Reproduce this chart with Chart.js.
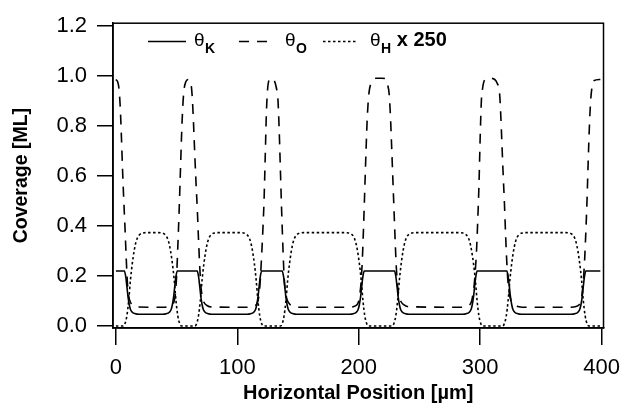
<!DOCTYPE html>
<html>
<head>
<meta charset="utf-8">
<script src="https://cdn.jsdelivr.net/npm/chart.js@4.4.1/dist/chart.umd.min.js"></script>
<style>
  html, body { margin: 0; padding: 0; background: #fff; }
</style>
</head>
<body>
<canvas id="coverageChart" width="630" height="407"></canvas>
<script>
// position [um] / coverage [ML]
const posK = [0, 7, 8, 9, 10, 11, 12, 13.5, 16, 19,
    38.5, 41.5, 44, 45.5, 46.5, 47.5, 48.5, 49.5, 50.5,
    67, 68, 69, 70, 71, 72, 73.5, 76, 79,
    108, 111, 113.5, 115, 116, 117, 118, 119, 120,
    137, 138, 139, 140, 141, 142, 143.5, 146, 149,
    192.5, 195.5, 198, 199.5, 200.5, 201.5, 202.5, 203.5, 204.5,
    229.5, 230.5, 231.5, 232.5, 233.5, 234.5, 236, 238.5, 241.5,
    285.5, 288.5, 291, 292.5, 293.5, 294.5, 295.5, 296.5, 297.5,
    322, 323, 324, 325, 326, 327, 328.5, 331, 334,
    375, 378, 380.5, 382, 383, 384, 385, 386, 387,
    399];
const thetaK = [0.22, 0.22, 0.2, 0.16, 0.115, 0.085, 0.066, 0.055, 0.049, 0.047,
    0.047, 0.049, 0.055, 0.066, 0.085, 0.115, 0.16, 0.2, 0.22,
    0.22, 0.2, 0.16, 0.115, 0.085, 0.066, 0.055, 0.049, 0.047,
    0.047, 0.049, 0.055, 0.066, 0.085, 0.115, 0.16, 0.2, 0.22,
    0.22, 0.2, 0.16, 0.115, 0.085, 0.066, 0.055, 0.049, 0.047,
    0.047, 0.049, 0.055, 0.066, 0.085, 0.115, 0.16, 0.2, 0.22,
    0.22, 0.2, 0.16, 0.115, 0.085, 0.066, 0.055, 0.049, 0.047,
    0.047, 0.049, 0.055, 0.066, 0.085, 0.115, 0.16, 0.2, 0.22,
    0.22, 0.2, 0.16, 0.115, 0.085, 0.066, 0.055, 0.049, 0.047,
    0.047, 0.049, 0.055, 0.066, 0.085, 0.115, 0.16, 0.2, 0.22,
    0.22];

const posO = [0, 1.5, 2.5, 3.5, 4.5, 5.5, 6.5, 7.5, 8.5, 9.5, 10.5, 12, 14, 18,
    40, 44, 46.5, 48, 49, 50, 51, 52, 53, 54, 55, 56, 57.5, 59.5, 61.5, 62.8, 64, 65, 66, 67, 68, 69, 70, 71, 72.5, 75, 79,
    109, 113, 115.5, 117, 118, 119, 120, 121, 122, 123, 124, 125, 126.5, 128.5, 130.5, 132, 133.5, 134.5, 135.5, 136.5, 137.5, 138.5, 139.5, 141, 143, 146, 150,
    192, 196, 198.5, 200, 201, 202, 203, 204, 205, 206, 207, 208, 209, 211, 214, 219, 223, 224, 225, 226, 227, 228, 229, 230, 231, 232, 233, 234.5, 237, 241,
    285, 289, 291.5, 293, 294, 295, 296, 297, 298, 299, 300, 301, 302, 304, 308, 312, 314, 316, 317, 318, 319, 320, 321, 322, 323, 324, 325.5, 328, 331, 335,
    375, 379, 381.5, 383, 384, 385, 386, 387, 388, 389, 390, 391, 392, 393.5, 399];
const thetaO = [0.985, 0.975, 0.95, 0.88, 0.76, 0.62, 0.5, 0.39, 0.27, 0.17, 0.12, 0.095, 0.082, 0.076,
    0.075, 0.078, 0.085, 0.1, 0.13, 0.2, 0.32, 0.45, 0.6, 0.75, 0.87, 0.94, 0.975, 0.985, 0.975, 0.92, 0.8, 0.68, 0.57, 0.47, 0.35, 0.24, 0.16, 0.12, 0.095, 0.082, 0.076,
    0.075, 0.078, 0.085, 0.1, 0.13, 0.19, 0.28, 0.38, 0.5, 0.68, 0.86, 0.95, 0.985, 0.99, 0.98, 0.955, 0.9, 0.78, 0.62, 0.46, 0.32, 0.2, 0.14, 0.105, 0.088, 0.079, 0.075,
    0.075, 0.078, 0.085, 0.1, 0.13, 0.18, 0.27, 0.4, 0.55, 0.7, 0.83, 0.91, 0.95, 0.975, 0.99, 0.99, 0.985, 0.96, 0.93, 0.85, 0.73, 0.6, 0.47, 0.34, 0.23, 0.16, 0.125, 0.1, 0.085, 0.077,
    0.075, 0.078, 0.085, 0.1, 0.125, 0.16, 0.22, 0.3, 0.42, 0.56, 0.75, 0.9, 0.95, 0.985, 0.99, 0.985, 0.97, 0.93, 0.84, 0.72, 0.6, 0.49, 0.36, 0.25, 0.17, 0.13, 0.1, 0.085, 0.078, 0.075,
    0.075, 0.078, 0.085, 0.1, 0.13, 0.18, 0.26, 0.37, 0.5, 0.66, 0.8, 0.9, 0.95, 0.98, 0.985];

const posH = [0, 6, 7.5, 9, 10.5, 12, 13.5, 15, 16.5, 18, 20, 22.5, 25,
    35, 37.5, 40, 42, 43.5, 45, 46.5, 48, 49.5, 51, 52.5, 54,
    65, 66.5, 68, 69.5, 71, 72.5, 74, 75.5, 77, 79, 81.5, 84,
    102.5, 105, 107.5, 109.5, 111, 112.5, 114, 115.5, 117, 118.5, 120, 121.5,
    135.5, 137, 138.5, 140, 141.5, 143, 144.5, 146, 147.5, 149.5, 152, 154.5,
    189, 191.5, 194, 196, 197.5, 199, 200.5, 202, 203.5, 205, 206.5, 208,
    227.5, 229, 230.5, 232, 233.5, 235, 236.5, 238, 239.5, 241.5, 244, 246.5,
    283, 285.5, 288, 290, 291.5, 293, 294.5, 296, 297.5, 299, 300.5, 302,
    318.5, 320, 321.5, 323, 324.5, 326, 327.5, 329, 330.5, 332.5, 335, 337.5,
    370.5, 373, 375.5, 377.5, 379, 380.5, 382, 383.5, 385, 386.5, 388, 389.5,
    399];
const thetaH250 = [0, 0, 0.01, 0.04, 0.1, 0.185, 0.25, 0.3, 0.335, 0.355, 0.367, 0.372, 0.373,
    0.373, 0.372, 0.367, 0.355, 0.335, 0.3, 0.25, 0.185, 0.1, 0.04, 0.01, 0,
    0, 0.01, 0.04, 0.1, 0.185, 0.25, 0.3, 0.335, 0.355, 0.367, 0.372, 0.373,
    0.373, 0.372, 0.367, 0.355, 0.335, 0.3, 0.25, 0.185, 0.1, 0.04, 0.01, 0,
    0, 0.01, 0.04, 0.1, 0.185, 0.25, 0.3, 0.335, 0.355, 0.367, 0.372, 0.373,
    0.373, 0.372, 0.367, 0.355, 0.335, 0.3, 0.25, 0.185, 0.1, 0.04, 0.01, 0,
    0, 0.01, 0.04, 0.1, 0.185, 0.25, 0.3, 0.335, 0.355, 0.367, 0.372, 0.373,
    0.373, 0.372, 0.367, 0.355, 0.335, 0.3, 0.25, 0.185, 0.1, 0.04, 0.01, 0,
    0, 0.01, 0.04, 0.1, 0.185, 0.25, 0.3, 0.335, 0.355, 0.367, 0.372, 0.373,
    0.373, 0.372, 0.367, 0.355, 0.335, 0.3, 0.25, 0.185, 0.1, 0.04, 0.01, 0,
    0];

const xTicks = [0, 100, 200, 300, 400];
const yTicks = [0, 0.2, 0.4, 0.6, 0.8, 1.0, 1.2];
// legend text: symbol, subscript, trailing text
const legendSymbols = ['θ', 'θ', 'θ'];
const legendSubs = ['K', 'O', 'H'];
const legendTails = ['', '', ' x 250'];

const fontFamily = "'Liberation Sans', Arial, Helvetica, sans-serif";
Chart.defaults.font.family = fontFamily;
Chart.defaults.color = '#000';

const toPoints = (xs, ys) => xs.map((x, i) => ({ x: x, y: ys[i] }));

// box around the plot area
const framePlugin = {
    id: 'frame',
    afterDatasetsDraw(chart) {
        const { ctx, chartArea: a } = chart;
        ctx.save();
        ctx.strokeStyle = '#000';
        ctx.lineWidth = 1.5;
        ctx.strokeRect(a.left, a.top, a.right - a.left, a.bottom - a.top);
        ctx.restore();
    }
};

// legend with subscripts, drawn inside the plot
const subLegendPlugin = {
    id: 'subLegend',
    afterDraw(chart) {
        const ctx = chart.ctx;
        const lineStart = [148, 239, 323];
        const lineEnd = [186, 269, 357];
        const textX = [194, 285, 370];
        const lineY = 41.5;
        ctx.save();
        chart.data.datasets.forEach((ds, i) => {
            ctx.strokeStyle = '#000';
            ctx.lineWidth = ds.borderWidth;
            ctx.setLineDash(ds.borderDash || []);
            ctx.beginPath();
            ctx.moveTo(lineStart[i], lineY);
            ctx.lineTo(lineEnd[i], lineY);
            ctx.stroke();
            ctx.setLineDash([]);

            ctx.fillStyle = '#000';
            ctx.textBaseline = 'alphabetic';
            ctx.textAlign = 'left';
            ctx.font = '19px ' + fontFamily;
            ctx.fillText(legendSymbols[i], textX[i], 45.5);
            let x = textX[i] + ctx.measureText(legendSymbols[i]).width + 0.5;
            ctx.font = 'bold 14px ' + fontFamily;
            ctx.fillText(legendSubs[i], x, 53);
            x += ctx.measureText(legendSubs[i]).width;
            if (legendTails[i]) {
                ctx.font = 'bold 20px ' + fontFamily;
                ctx.fillText(legendTails[i], x, 45.5);
            }
        });
        ctx.restore();
    }
};

new Chart(document.getElementById('coverageChart'), {
    type: 'line',
    data: {
        datasets: [
            {
                label: 'θK',
                data: toPoints(posK, thetaK),
                borderColor: '#000',
                borderWidth: 1.6,
                pointRadius: 0,
                cubicInterpolationMode: 'monotone',
            },
            {
                label: 'θO',
                data: toPoints(posO, thetaO),
                borderColor: '#000',
                borderWidth: 1.6,
                borderDash: [10, 8],
                pointRadius: 0,
                cubicInterpolationMode: 'monotone',
            },
            {
                label: 'θH x 250',
                data: toPoints(posH, thetaH250),
                borderColor: '#000',
                borderWidth: 1.6,
                borderDash: [2.5, 2.5],
                pointRadius: 0,
                cubicInterpolationMode: 'monotone',
            }
        ]
    },
    options: {
        responsive: false,
        animation: false,
        devicePixelRatio: 1,
        layout: { padding: { top: 16, right: 20, bottom: 0, left: 0 } },
        plugins: {
            legend: { display: false },
            tooltip: { enabled: false }
        },
        scales: {
            x: {
                type: 'linear',
                min: -2.4,
                max: 401.6,
                afterBuildTicks: (scale) => { scale.ticks = xTicks.map(v => ({ value: v })); },
                afterFit: (scale) => { scale.height = 79; },
                ticks: {
                    font: { size: 22 },
                    color: '#000',
                    padding: 10,
                    maxRotation: 0
                },
                grid: {
                    drawOnChartArea: false,
                    tickLength: 17,
                    color: '#000',
                    lineWidth: 1.5
                },
                border: { color: '#000', width: 1.5 },
                title: {
                    display: true,
                    text: 'Horizontal Position [µm]',
                    font: { size: 20, weight: 'bold' },
                    color: '#000',
                    padding: { top: 0, bottom: 2 }
                }
            },
            y: {
                min: -0.008,
                max: 1.21,
                afterBuildTicks: (scale) => { scale.ticks = yTicks.map(v => ({ value: v })); },
                afterFit: (scale) => { scale.width = 113; },
                ticks: {
                    font: { size: 22 },
                    color: '#000',
                    padding: 10,
                    callback: (v) => Number(v).toFixed(1)
                },
                grid: {
                    drawOnChartArea: false,
                    tickLength: 16,
                    color: '#000',
                    lineWidth: 1.5
                },
                border: { color: '#000', width: 1.5 },
                title: {
                    display: true,
                    text: 'Coverage [ML]',
                    font: { size: 19.5, weight: 'bold' },
                    color: '#000',
                    padding: { top: 10, bottom: 0 }
                }
            }
        }
    },
    plugins: [framePlugin, subLegendPlugin]
});
</script>
</body>
</html>
